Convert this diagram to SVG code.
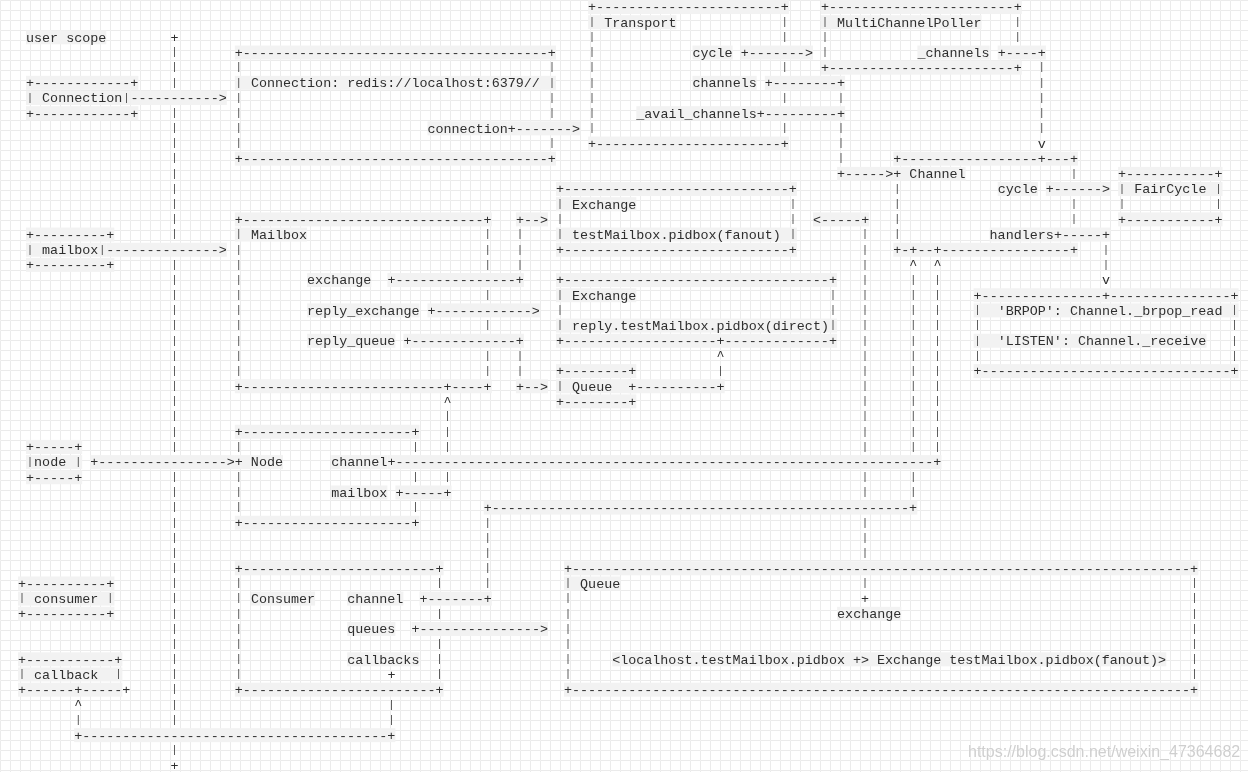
<svg xmlns="http://www.w3.org/2000/svg" width="1248" height="772" viewBox="0 0 1248 772">
<style>
.t{font-family:"Liberation Mono","Courier New",monospace;font-size:13.38px;fill:#2e2e2e}
.v{font-family:"Liberation Mono","Courier New",monospace;font-size:10px;fill:#3a3a3a}
.b{fill:#f2f2f2}
.w{font-family:"Liberation Sans",Arial,sans-serif;font-size:16px;fill:#cfcfcf;stroke:#ffffff;stroke-width:0.6px;paint-order:stroke}
</style>
<defs>
<pattern id="grid" width="10" height="10" patternUnits="userSpaceOnUse"><path d="M10 0.5H0.5V10" fill="none" stroke="#ebebeb" stroke-width="1"/></pattern>
<filter id="flat" x="0" y="0" width="1248" height="772" filterUnits="userSpaceOnUse"><feOffset dx="0" dy="0"/></filter>
</defs>
<rect width="1248" height="772" fill="#ffffff"/>
<rect width="1248" height="772" fill="url(#grid)"/>
<g id="diagram" filter="url(#flat)">

<g id="user-scope">
<rect class="b" x="26" y="30.34" width="80.3" height="14"/>
<text class="t" x="26" y="41.6">user scope</text>
</g>

<g id="scope-divider">
<text class="t" x="170.6" y="41.6">+</text>
<text class="t" x="170.6" y="769.8">+</text>
<text class="v" x="171.6 171.6 171.6" y="55.3 70.4 85.6">|||</text>
<text class="v" x="171.6 171.6 171.6 171.6 171.6 171.6 171.6 171.6 171.6" y="115.9 131.1 146.3 161.4 176.6 191.8 207 222.1 237.3">|||||||||</text>
<text class="v" x="171.6 171.6 171.6 171.6 171.6 171.6 171.6 171.6 171.6 171.6 171.6 171.6 171.6" y="267.6 282.8 298 313.1 328.3 343.5 358.7 373.8 389 404.2 419.3 434.5 449.7">|||||||||||||</text>
<text class="v" x="171.6 171.6 171.6 171.6 171.6 171.6 171.6 171.6 171.6 171.6 171.6 171.6 171.6 171.6 171.6 171.6 171.6" y="480 495.2 510.4 525.5 540.7 555.9 571 586.2 601.4 616.5 631.7 646.9 662.1 677.2 692.4 707.6 722.7">|||||||||||||||||</text>
<text class="v" x="171.6" y="753.1">|</text>
</g>

<g id="connection-ref">
<rect class="b" x="26" y="75.85" width="112.4" height="14"/>
<rect class="b" x="26" y="91.02" width="104.4" height="14"/>
<rect class="b" x="26" y="106.19" width="112.4" height="14"/>
<text class="t" x="26" y="87.2">+------------+</text>
<text class="t" x="42.1" y="102.3">Connection</text>
<text class="t" x="26" y="117.5">+------------+</text>
<text class="v" x="27" y="100.8">|</text>
<text class="v" x="123.4" y="100.8">|</text>
</g>

<g id="connection">
<rect class="b" x="234.8" y="45.51" width="321.2" height="14"/>
<rect class="b" x="234.8" y="75.85" width="321.2" height="14"/>
<rect class="b" x="427.5" y="121.36" width="80.3" height="14"/>
<rect class="b" x="234.8" y="151.7" width="321.2" height="14"/>
<text class="t" x="234.8" y="56.8">+--------------------------------------+</text>
<text class="t" x="250.9" y="87.2">Connection: redis://localhost:6379//</text>
<text class="t" x="427.5" y="132.7">connection</text>
<text class="t" x="234.8" y="163">+--------------------------------------+</text>
<text class="v" x="235.8 235.8 235.8 235.8 235.8 235.8" y="70.4 85.6 100.8 115.9 131.1 146.3">||||||</text>
<text class="v" x="549 549 549 549" y="70.4 85.6 100.8 115.9">||||</text>
<text class="v" x="549" y="146.3">|</text>
</g>

<g id="transport">
<rect class="b" x="588.1" y="0" width="200.8" height="14"/>
<rect class="b" x="588.1" y="15.17" width="88.3" height="14"/>
<rect class="b" x="692.5" y="45.51" width="40.2" height="14"/>
<rect class="b" x="692.5" y="75.85" width="64.2" height="14"/>
<rect class="b" x="636.3" y="106.19" width="120.5" height="14"/>
<rect class="b" x="588.1" y="136.53" width="200.8" height="14"/>
<text class="t" x="588.1" y="11.3">+-----------------------+</text>
<text class="t" x="604.2" y="26.5">Transport</text>
<text class="t" x="692.5" y="56.8">cycle</text>
<text class="t" x="692.5" y="87.2">channels</text>
<text class="t" x="636.3" y="117.5">_avail_channels</text>
<text class="t" x="588.1" y="147.8">+-----------------------+</text>
<text class="v" x="589.1 589.1 589.1 589.1 589.1 589.1 589.1 589.1" y="24.9 40.1 55.3 70.4 85.6 100.8 115.9 131.1">||||||||</text>
<text class="v" x="781.8 781.8" y="24.9 40.1">||</text>
<text class="v" x="781.8" y="70.4">|</text>
<text class="v" x="781.8" y="100.8">|</text>
<text class="v" x="781.8" y="131.1">|</text>
</g>

<g id="multichannelpoller">
<rect class="b" x="821" y="0" width="200.8" height="14"/>
<rect class="b" x="821" y="15.17" width="160.6" height="14"/>
<rect class="b" x="917.4" y="45.51" width="72.3" height="14"/>
<rect class="b" x="821" y="60.68" width="200.8" height="14"/>
<text class="t" x="821" y="11.3">+-----------------------+</text>
<text class="t" x="837.1" y="26.5">MultiChannelPoller</text>
<text class="t" x="917.4" y="56.8">_channels</text>
<text class="t" x="821" y="72">+-----------------------+</text>
<text class="v" x="822 822 822" y="24.9 40.1 55.3">|||</text>
<text class="v" x="1014.7 1014.7" y="24.9 40.1">||</text>
</g>

<g id="channel">
<rect class="b" x="893.3" y="151.7" width="184.7" height="14"/>
<rect class="b" x="893.3" y="166.87" width="72.3" height="14"/>
<rect class="b" x="997.7" y="182.04" width="40.2" height="14"/>
<rect class="b" x="989.6" y="227.55" width="64.2" height="14"/>
<rect class="b" x="893.3" y="242.72" width="184.7" height="14"/>
<text class="t" x="893.3" y="163">+-----------------+---+</text>
<text class="t" x="893.3" y="178.2">+ Channel</text>
<text class="t" x="997.7" y="193.3">cycle</text>
<text class="t" x="989.6" y="238.9">handlers</text>
<text class="t" x="893.3" y="254">+-+--+----------------+</text>
<text class="v" x="894.3 894.3 894.3 894.3" y="191.8 207 222.1 237.3">||||</text>
<text class="v" x="1070.9" y="176.6">|</text>
<text class="v" x="1070.9 1070.9" y="207 222.1">||</text>
</g>

<g id="faircycle">
<rect class="b" x="1118.1" y="166.87" width="104.4" height="14"/>
<rect class="b" x="1118.1" y="182.04" width="104.4" height="14"/>
<rect class="b" x="1118.1" y="212.38" width="104.4" height="14"/>
<text class="t" x="1118.1" y="178.2">+-----------+</text>
<text class="t" x="1134.2" y="193.3">FairCycle</text>
<text class="t" x="1118.1" y="223.7">+-----------+</text>
<text class="v" x="1119.1 1119.1" y="191.8 207">||</text>
<text class="v" x="1215.5 1215.5" y="191.8 207">||</text>
</g>

<g id="handlers-map">
<rect class="b" x="973.6" y="288.23" width="265" height="14"/>
<rect class="b" x="973.6" y="303.4" width="265" height="14"/>
<rect class="b" x="973.6" y="333.74" width="232.9" height="14"/>
<rect class="b" x="973.6" y="364.08" width="265" height="14"/>
<text class="t" x="973.6" y="299.5">+---------------+---------------+</text>
<text class="t" x="997.7" y="314.7">'BRPOP': Channel._brpop_read</text>
<text class="t" x="997.7" y="345">'LISTEN': Channel._receive</text>
<text class="t" x="973.6" y="375.4">+-------------------------------+</text>
<text class="v" x="974.6 974.6 974.6 974.6" y="313.1 328.3 343.5 358.7">||||</text>
<text class="v" x="1231.5 1231.5 1231.5 1231.5" y="313.1 328.3 343.5 358.7">||||</text>
</g>

<g id="mailbox-ref">
<rect class="b" x="26" y="227.55" width="88.3" height="14"/>
<rect class="b" x="26" y="242.72" width="80.3" height="14"/>
<rect class="b" x="26" y="257.89" width="88.3" height="14"/>
<text class="t" x="26" y="238.9">+---------+</text>
<text class="t" x="42.1" y="254">mailbox</text>
<text class="t" x="26" y="269.2">+---------+</text>
<text class="v" x="27" y="252.5">|</text>
<text class="v" x="99.3" y="252.5">|</text>
</g>

<g id="mailbox">
<rect class="b" x="234.8" y="212.38" width="257" height="14"/>
<rect class="b" x="234.8" y="227.55" width="72.3" height="14"/>
<rect class="b" x="307.1" y="273.06" width="64.2" height="14"/>
<rect class="b" x="307.1" y="303.4" width="112.4" height="14"/>
<rect class="b" x="307.1" y="333.74" width="88.3" height="14"/>
<rect class="b" x="234.8" y="379.25" width="257" height="14"/>
<text class="t" x="234.8" y="223.7">+------------------------------+</text>
<text class="t" x="250.9" y="238.9">Mailbox</text>
<text class="t" x="307.1" y="284.4">exchange</text>
<text class="t" x="307.1" y="314.7">reply_exchange</text>
<text class="t" x="307.1" y="345">reply_queue</text>
<text class="t" x="234.8" y="390.6">+-------------------------+----+</text>
<text class="v" x="235.8 235.8 235.8 235.8 235.8 235.8 235.8 235.8 235.8 235.8" y="237.3 252.5 267.6 282.8 298 313.1 328.3 343.5 358.7 373.8">||||||||||</text>
<text class="v" x="484.7 484.7 484.7" y="237.3 252.5 267.6">|||</text>
<text class="v" x="484.7" y="298">|</text>
<text class="v" x="484.7" y="328.3">|</text>
<text class="v" x="484.7 484.7" y="358.7 373.8">||</text>
</g>

<g id="exchange-fanout">
<rect class="b" x="556" y="182.04" width="240.9" height="14"/>
<rect class="b" x="556" y="197.21" width="80.3" height="14"/>
<rect class="b" x="556" y="227.55" width="240.9" height="14"/>
<rect class="b" x="556" y="242.72" width="240.9" height="14"/>
<text class="t" x="556" y="193.3">+----------------------------+</text>
<text class="t" x="572.1" y="208.5">Exchange</text>
<text class="t" x="572.1" y="238.9">testMailbox.pidbox(fanout)</text>
<text class="t" x="556" y="254">+----------------------------+</text>
<text class="v" x="557 557 557" y="207 222.1 237.3">|||</text>
<text class="v" x="789.9 789.9 789.9" y="207 222.1 237.3">|||</text>
</g>

<g id="exchange-direct">
<rect class="b" x="556" y="273.06" width="281.1" height="14"/>
<rect class="b" x="556" y="288.23" width="80.3" height="14"/>
<rect class="b" x="556" y="318.57" width="281.1" height="14"/>
<rect class="b" x="556" y="333.74" width="281.1" height="14"/>
<text class="t" x="556" y="284.4">+---------------------------------+</text>
<text class="t" x="572.1" y="299.5">Exchange</text>
<text class="t" x="572.1" y="329.9">reply.testMailbox.pidbox(direct)</text>
<text class="t" x="556" y="345">+-------------------+-------------+</text>
<text class="v" x="557 557 557" y="298 313.1 328.3">|||</text>
<text class="v" x="830 830 830" y="298 313.1 328.3">|||</text>
</g>

<g id="reply-queue">
<rect class="b" x="556" y="364.08" width="80.3" height="14"/>
<rect class="b" x="556" y="379.25" width="80.3" height="14"/>
<rect class="b" x="556" y="394.42" width="80.3" height="14"/>
<text class="t" x="556" y="375.4">+--------+</text>
<text class="t" x="572.1" y="390.6">Queue</text>
<text class="t" x="556" y="405.7">+--------+</text>
<text class="v" x="557" y="389">|</text>
</g>

<g id="node-ref">
<rect class="b" x="26" y="439.93" width="56.2" height="14"/>
<rect class="b" x="26" y="455.1" width="56.2" height="14"/>
<rect class="b" x="26" y="470.27" width="56.2" height="14"/>
<text class="t" x="26" y="451.2">+-----+</text>
<text class="t" x="34.1" y="466.4">node</text>
<text class="t" x="26" y="481.6">+-----+</text>
<text class="v" x="27" y="464.8">|</text>
<text class="v" x="75.2" y="464.8">|</text>
</g>

<g id="node">
<rect class="b" x="234.8" y="424.76" width="184.7" height="14"/>
<rect class="b" x="234.8" y="455.1" width="48.2" height="14"/>
<rect class="b" x="331.2" y="455.1" width="56.2" height="14"/>
<rect class="b" x="331.2" y="485.44" width="56.2" height="14"/>
<rect class="b" x="234.8" y="515.78" width="184.7" height="14"/>
<text class="t" x="234.8" y="436.1">+---------------------+</text>
<text class="t" x="234.8" y="466.4">+ Node</text>
<text class="t" x="331.2" y="466.4">channel</text>
<text class="t" x="331.2" y="496.7">mailbox</text>
<text class="t" x="234.8" y="527.1">+---------------------+</text>
<text class="v" x="235.8" y="449.7">|</text>
<text class="v" x="235.8 235.8 235.8" y="480 495.2 510.4">|||</text>
<text class="v" x="412.5" y="449.7">|</text>
<text class="v" x="412.5" y="480">|</text>
<text class="v" x="412.5" y="510.4">|</text>
</g>

<g id="consumer-ref">
<rect class="b" x="18" y="576.46" width="96.4" height="14"/>
<rect class="b" x="18" y="591.63" width="96.4" height="14"/>
<rect class="b" x="18" y="606.8" width="96.4" height="14"/>
<text class="t" x="18" y="587.8">+----------+</text>
<text class="t" x="34.1" y="602.9">consumer</text>
<text class="t" x="18" y="618.1">+----------+</text>
<text class="v" x="19" y="601.4">|</text>
<text class="v" x="107.3" y="601.4">|</text>
</g>

<g id="callback-ref">
<rect class="b" x="18" y="652.31" width="104.4" height="14"/>
<rect class="b" x="18" y="667.48" width="104.4" height="14"/>
<rect class="b" x="18" y="682.65" width="104.4" height="14"/>
<text class="t" x="18" y="663.6">+-----------+</text>
<text class="t" x="34.1" y="678.8">callback</text>
<text class="t" x="18" y="694">+------+-----+</text>
<text class="v" x="19" y="677.2">|</text>
<text class="v" x="115.4" y="677.2">|</text>
</g>

<g id="consumer">
<rect class="b" x="234.8" y="561.29" width="208.8" height="14"/>
<rect class="b" x="250.9" y="591.63" width="64.2" height="14"/>
<rect class="b" x="347.2" y="591.63" width="56.2" height="14"/>
<rect class="b" x="347.2" y="621.97" width="48.2" height="14"/>
<rect class="b" x="347.2" y="652.31" width="72.3" height="14"/>
<rect class="b" x="234.8" y="682.65" width="208.8" height="14"/>
<text class="t" x="234.8" y="572.6">+------------------------+</text>
<text class="t" x="250.9" y="602.9">Consumer</text>
<text class="t" x="347.2" y="602.9">channel</text>
<text class="t" x="347.2" y="633.3">queues</text>
<text class="t" x="347.2" y="663.6">callbacks</text>
<text class="t" x="234.8" y="694">+------------------------+</text>
<text class="v" x="235.8 235.8 235.8 235.8 235.8 235.8 235.8" y="586.2 601.4 616.5 631.7 646.9 662.1 677.2">|||||||</text>
<text class="v" x="436.6" y="586.2">|</text>
<text class="v" x="436.6" y="616.5">|</text>
<text class="v" x="436.6 436.6 436.6" y="646.9 662.1 677.2">|||</text>
</g>

<g id="queue">
<rect class="b" x="564" y="561.29" width="634.4" height="14"/>
<rect class="b" x="564" y="576.46" width="56.2" height="14"/>
<rect class="b" x="837.1" y="606.8" width="64.2" height="14"/>
<rect class="b" x="612.2" y="652.31" width="554.1" height="14"/>
<rect class="b" x="564" y="682.65" width="634.4" height="14"/>
<text class="t" x="564" y="572.6">+-----------------------------------------------------------------------------+</text>
<text class="t" x="580.1" y="587.8">Queue</text>
<text class="t" x="837.1" y="618.1">exchange</text>
<text class="t" x="612.2" y="663.6">&lt;localhost.testMailbox.pidbox +&gt; Exchange testMailbox.pidbox(fanout)&gt;</text>
<text class="t" x="564" y="694">+-----------------------------------------------------------------------------+</text>
<text class="v" x="565 565 565 565 565 565 565" y="586.2 601.4 616.5 631.7 646.9 662.1 677.2">|||||||</text>
<text class="v" x="1191.4 1191.4 1191.4 1191.4 1191.4 1191.4 1191.4" y="586.2 601.4 616.5 631.7 646.9 662.1 677.2">|||||||</text>
</g>

<g id="connectors">
<rect class="b" x="130.4" y="91.02" width="96.4" height="14"/>
<text class="t" x="130.4" y="102.3">-----------&gt;</text>
<rect class="b" x="507.8" y="121.36" width="72.3" height="14"/>
<text class="t" x="507.8" y="132.7">+-------&gt;</text>
<rect class="b" x="740.7" y="45.51" width="72.3" height="14"/>
<text class="t" x="740.7" y="56.8">+-------&gt;</text>
<rect class="b" x="997.7" y="45.51" width="48.2" height="14"/>
<text class="t" x="997.7" y="56.8">+----+</text>
<text class="v" x="1038.8 1038.8 1038.8 1038.8 1038.8" y="70.4 85.6 100.8 115.9 131.1">|||||</text>
<text class="t" x="1037.8" y="147.8">v</text>
<rect class="b" x="764.8" y="75.85" width="80.3" height="14"/>
<text class="t" x="764.8" y="87.2">+--------+</text>
<rect class="b" x="756.8" y="106.19" width="88.3" height="14"/>
<text class="t" x="756.8" y="117.5">+---------+</text>
<text class="v" x="838.1" y="100.8">|</text>
<text class="v" x="838.1 838.1 838.1" y="131.1 146.3 161.4">|||</text>
<rect class="b" x="837.1" y="166.87" width="56.2" height="14"/>
<text class="t" x="837.1" y="178.2">+-----&gt;</text>
<rect class="b" x="1045.8" y="182.04" width="64.2" height="14"/>
<text class="t" x="1045.8" y="193.3">+------&gt;</text>
<rect class="b" x="1053.9" y="227.55" width="56.2" height="14"/>
<text class="t" x="1053.9" y="238.9">+-----+</text>
<text class="v" x="1103 1103" y="252.5 267.6">||</text>
<text class="t" x="1102" y="284.4">v</text>
<rect class="b" x="106.3" y="242.72" width="120.5" height="14"/>
<text class="t" x="106.3" y="254">--------------&gt;</text>
<rect class="b" x="387.4" y="273.06" width="136.5" height="14"/>
<text class="t" x="387.4" y="284.4">+---------------+</text>
<text class="v" x="516.9 516.9 516.9" y="237.3 252.5 267.6">|||</text>
<rect class="b" x="515.9" y="212.38" width="32.1" height="14"/>
<text class="t" x="515.9" y="223.7">+--&gt;</text>
<rect class="b" x="427.5" y="303.4" width="112.4" height="14"/>
<text class="t" x="427.5" y="314.7">+------------&gt;</text>
<rect class="b" x="403.4" y="333.74" width="120.5" height="14"/>
<text class="t" x="403.4" y="345">+-------------+</text>
<text class="v" x="516.9 516.9" y="358.7 373.8">||</text>
<rect class="b" x="515.9" y="379.25" width="32.1" height="14"/>
<text class="t" x="515.9" y="390.6">+--&gt;</text>
<rect class="b" x="628.3" y="379.25" width="96.4" height="14"/>
<text class="t" x="628.3" y="390.6">+----------+</text>
<text class="t" x="716.6" y="360.2">^</text>
<text class="v" x="717.6" y="373.8">|</text>
<rect class="b" x="813" y="212.38" width="56.2" height="14"/>
<text class="t" x="813" y="223.7">&lt;-----+</text>
<text class="v" x="862.1 862.1 862.1 862.1 862.1 862.1 862.1 862.1 862.1 862.1 862.1 862.1 862.1 862.1 862.1" y="237.3 252.5 267.6 282.8 298 313.1 328.3 343.5 358.7 373.8 389 404.2 419.3 434.5 449.7">|||||||||||||||</text>
<text class="v" x="862.1 862.1" y="480 495.2">||</text>
<text class="v" x="862.1 862.1 862.1" y="525.5 540.7 555.9">|||</text>
<text class="v" x="862.1" y="586.2">|</text>
<text class="t" x="861.1" y="602.9">+</text>
<rect class="b" x="90.3" y="455.1" width="144.5" height="14"/>
<text class="t" x="90.3" y="466.4">+----------------&gt;</text>
<rect class="b" x="387.4" y="455.1" width="554.1" height="14"/>
<text class="t" x="387.4" y="466.4">+-------------------------------------------------------------------+</text>
<text class="t" x="933.4" y="269.2">^</text>
<text class="v" x="934.4 934.4 934.4 934.4 934.4 934.4 934.4 934.4 934.4 934.4 934.4 934.4" y="282.8 298 313.1 328.3 343.5 358.7 373.8 389 404.2 419.3 434.5 449.7">||||||||||||</text>
<rect class="b" x="395.4" y="485.44" width="56.2" height="14"/>
<text class="t" x="395.4" y="496.7">+-----+</text>
<text class="t" x="443.6" y="405.7">^</text>
<text class="v" x="444.6 444.6 444.6" y="419.3 434.5 449.7">|||</text>
<text class="v" x="444.6" y="480">|</text>
<rect class="b" x="419.5" y="591.63" width="72.3" height="14"/>
<text class="t" x="419.5" y="602.9">+-------+</text>
<text class="v" x="484.7 484.7 484.7 484.7 484.7" y="525.5 540.7 555.9 571 586.2">|||||</text>
<rect class="b" x="483.7" y="500.61" width="433.6" height="14"/>
<text class="t" x="483.7" y="511.9">+----------------------------------------------------+</text>
<text class="t" x="909.3" y="269.2">^</text>
<text class="v" x="910.3 910.3 910.3 910.3 910.3 910.3 910.3 910.3 910.3 910.3 910.3 910.3" y="282.8 298 313.1 328.3 343.5 358.7 373.8 389 404.2 419.3 434.5 449.7">||||||||||||</text>
<text class="v" x="910.3 910.3" y="480 495.2">||</text>
<rect class="b" x="411.5" y="621.97" width="136.5" height="14"/>
<text class="t" x="411.5" y="633.3">+---------------&gt;</text>
<text class="t" x="387.4" y="678.8">+</text>
<text class="v" x="388.4 388.4" y="707.6 722.7">||</text>
<text class="t" x="74.2" y="709.1">^</text>
<text class="v" x="75.2" y="722.7">|</text>
<rect class="b" x="74.2" y="728.16" width="321.2" height="14"/>
<text class="t" x="74.2" y="739.5">+--------------------------------------+</text>
</g>

<g id="watermark">
<text class="w" x="968" y="757">https://blog.csdn.net/weixin_47364682</text>
</g>
</g>
</svg>
